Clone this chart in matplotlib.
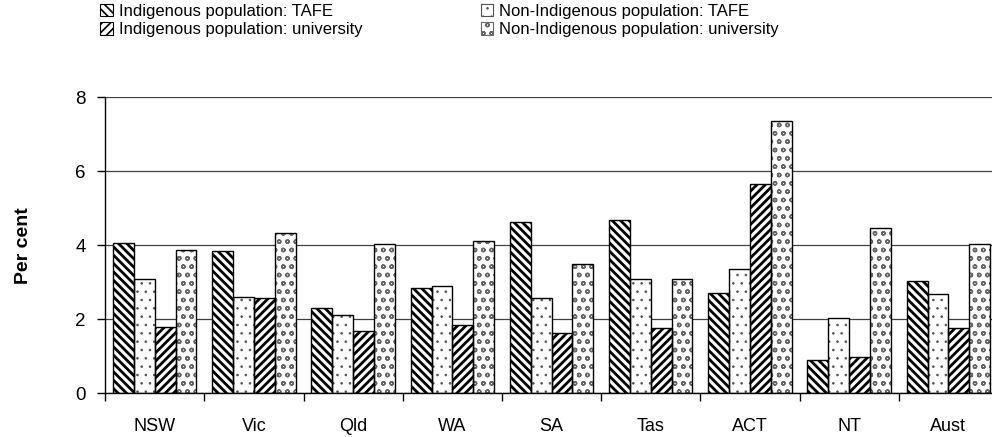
import matplotlib.pyplot as plt
import numpy as np

plt.rcParams['font.family'] = ['Liberation Sans', 'DejaVu Sans']
plt.rcParams['hatch.linewidth'] = 2.0

# Participation rates by state (per cent)
regions = ['NSW', 'Vic', 'Qld', 'WA', 'SA', 'Tas', 'ACT', 'NT', 'Aust']
indig_tafe = [4.07, 3.85, 2.31, 2.85, 4.62, 4.68, 2.70, 0.90, 3.04]
nonindig_tafe = [3.09, 2.59, 2.11, 2.90, 2.57, 3.09, 3.35, 2.03, 2.68]
indig_uni = [1.80, 2.56, 1.68, 1.85, 1.62, 1.77, 5.65, 0.99, 1.77]
nonindig_uni = [3.87, 4.32, 4.03, 4.10, 3.50, 3.09, 7.36, 4.46, 4.02]

series = [
    ('Indigenous population: TAFE', indig_tafe, '\\\\\\\\', 'black', 2.0),
    ('Non-Indigenous population: TAFE', nonindig_tafe, '..', '#505050', 0.6),
    ('Indigenous population: university', indig_uni, '////', 'black', 2.0),
    ('Non-Indigenous population: university', nonindig_uni, 'oo', '#666666', 1.0),
]

fig = plt.figure(figsize=(9.92, 4.37), dpi=100)
ax = fig.add_axes([0.106, 0.10, 0.9, 0.678])

x = np.arange(len(regions))
w = 0.21
handles = []
for i, (name, vals, hatch, hc, hlw) in enumerate(series):
    pos = x + (i - 1.5) * w
    h = ax.bar(pos, vals, w, color='white', edgecolor=hc, hatch=hatch,
               linewidth=0, label=name, zorder=2)
    for p in h.patches:
        p.set_hatch_linewidth(hlw)
    ax.bar(pos, vals, w, fill=False, edgecolor='black', linewidth=1.0, zorder=3)
    handles.append(h)

ax.set_ylim(0, 8)
ax.set_yticks([0, 2, 4, 6, 8])
ax.set_xlim(-0.5, len(regions) - 0.5)
ax.set_xticks(x)
ax.set_xticklabels(regions)
ax.set_xticks(np.arange(len(regions) + 1) - 0.5, minor=True)
ax.tick_params(axis='x', which='major', length=0, pad=18, labelsize=13)
ax.tick_params(axis='x', which='minor', length=6, width=1, direction='out')
ax.tick_params(axis='y', length=6, width=1, direction='out', labelsize=13.5, pad=8)
ax.grid(axis='y', color='#404040', linewidth=0.9, zorder=0)
ax.set_axisbelow(True)
for s in ['top', 'right']:
    ax.spines[s].set_visible(False)
ax.spines['left'].set_linewidth(1)
ax.spines['bottom'].set_linewidth(1)

ax.set_ylabel('Per cent', fontsize=14, fontweight='bold', labelpad=31)

# two rows: TAFE first, university second
idx = [0, 2, 1, 3]
leg = fig.legend(handles=[handles[k] for k in idx], loc='upper left',
                 bbox_to_anchor=(0.086, 1.025), ncol=2, frameon=False,
                 fontsize=12, handlelength=0.75, handleheight=0.75,
                 handletextpad=0.35, columnspacing=7.1, labelspacing=0.2)
for lh, k in zip(leg.legend_handles, idx):
    lh.set_hatch_linewidth(min(series[k][4], 1.2))
    lh.set_linewidth(0.8)

fig.savefig('out.png', dpi=100)
